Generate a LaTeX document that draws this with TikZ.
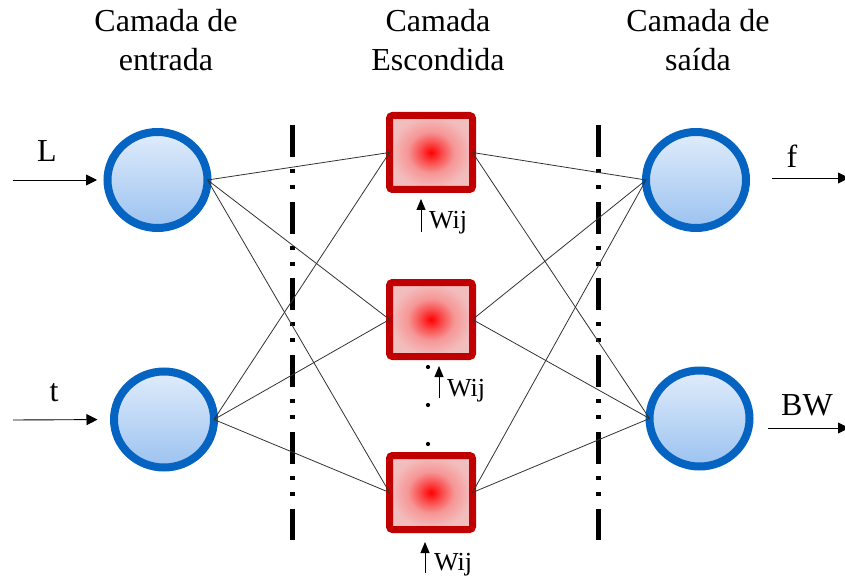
\documentclass[tikz,border=0pt]{standalone}
\usepackage{fontspec}
\setmainfont{Liberation Serif}
\usetikzlibrary{shapes.geometric,arrows.meta}

\definecolor{neuronedge}{RGB}{5,99,193}
\definecolor{neurontop}{RGB}{224,236,251}
\definecolor{neuronbot}{RGB}{155,194,240}
\definecolor{hiddenedge}{RGB}{192,0,0}
\definecolor{wire}{RGB}{50,50,50}
\definecolor{glowA}{RGB}{255,0,0}
\definecolor{glowB}{RGB}{250,80,80}
\definecolor{glowC}{RGB}{246,150,150}
\definecolor{glowD}{RGB}{243,188,188}
\definecolor{glowE}{RGB}{230,200,200}

% red glow used inside the hidden units
\pgfdeclareradialshading{redglow}{\pgfpoint{0bp}{0bp}}{%
  color(0bp)=(glowA);
  color(7bp)=(glowB);
  color(14bp)=(glowC);
  color(24bp)=(glowD);
  color(50bp)=(glowE)}

\tikzset{
  neuron/.style={ellipse, draw=neuronedge, line width=8pt, inner sep=0pt, outer sep=0pt,
    minimum width=100pt, minimum height=96pt,
    top color=neurontop, bottom color=neuronbot},
  hidden/.style={rectangle, draw=hiddenedge, line width=7pt, inner sep=0pt, outer sep=0pt,
    minimum width=83pt, minimum height=74pt, rounded corners=3pt, shading=redglow},
  wiring/.style={draw=wire, line width=0.8pt},
  iolink/.style={line width=0.9pt, -{Triangle[length=11pt,width=11pt]}},
  weightlink/.style={line width=0.9pt, -{Triangle[length=11pt,width=9pt]}},
  divider/.style={line width=5pt, dash pattern=on 32pt off 12pt on 4pt off 12pt on 4pt off 12.7pt},
  header/.style={font=\fontsize{32}{39}\selectfont, align=center, anchor=north, inner sep=0pt},
  iolabel/.style={font=\fontsize{32}{39}\selectfont, anchor=base, inner sep=0pt},
  wlabel/.style={font=\fontsize{26}{30}\selectfont, anchor=base west, inner sep=0pt},
  dotmark/.style={fill=black, circle, inner sep=0pt, minimum size=4.2pt}
}

\begin{document}
\begin{tikzpicture}[x=1pt, y=-1pt]
\useasboundingbox (0,0) rectangle (845,577);

% layer titles
\node[header] (h1) at (166,9) {Camada de\\entrada};
\node[header] (h2) at (438,9) {Camada\\Escondida};
\node[header] (h3) at (698,9) {Camada de\\saída};

% separators between the layers
\coordinate (d1a) at (292,125);
\coordinate (d1b) at (292,540);
\coordinate (d2a) at (598,125);
\coordinate (d2b) at (598,540);
\draw[divider] (d1a) -- (d1b);
\draw[divider] (d2a) -- (d2b);

% units
\node[neuron] (in1) at (157.5,180) {};
\node[neuron] (in2) at (164,419.5) {};
\node[neuron] (out1) at (696,180) {};
\node[neuron] (out2) at (699.5,418.5) {};
\node[hidden] (hid1) at (431,152.5) {};
\node[hidden] (hid2) at (431,319.5) {};
\node[hidden] (hid3) at (431,492.5) {};

% full connections
\foreach \i in {in1,in2}
  \foreach \h in {hid1,hid2,hid3}
    \draw[wiring] (\i.east) -- (\h.west);
\foreach \h in {hid1,hid2,hid3}
  \foreach \o in {out1,out2}
    \draw[wiring] (\h.east) -- (\o.west);

% inputs
\coordinate (Lstart) at (13,180);
\coordinate (tstart) at (13,420);
\draw[iolink, shorten >=10.5pt] (Lstart) -- (in1.west);
\draw[iolink, shorten >=16.5pt] (tstart) -- (in2.west);
\node[iolabel] (lL) at (47,162) {L};
\node[iolabel] (lt) at (54,401) {t};

% outputs
\coordinate (fend) at (849,178);
\coordinate (bwend) at (849,428);
\draw[iolink, shorten <=26pt] (out1.east |- fend) -- (fend);
\draw[iolink, shorten <=18.5pt] (out2.east |- bwend) -- (bwend);
\node[iolabel] (lf) at (792,168) {f};
\node[iolabel] (lbw) at (807,415) {BW};

% weights
\coordinate (w1a) at (421,232);
\coordinate (w1b) at (421,199);
\coordinate (w2a) at (439,398);
\coordinate (w2b) at (439,366);
\coordinate (w3a) at (425,573);
\coordinate (w3b) at (425,542);
\draw[weightlink] (w1a) -- (w1b);
\draw[weightlink] (w2a) -- (w2b);
\draw[weightlink] (w3a) -- (w3b);
\node[wlabel] (lw1) at (429,229) {Wij};
\node[wlabel] (lw2) at (447,396) {Wij};
\node[wlabel] (lw3) at (434,570) {Wij};

% ellipsis between hidden units
\node[dotmark] (p1) at (428,367) {};
\node[dotmark] (p2) at (428,405) {};
\node[dotmark] (p3) at (428,444) {};
\end{tikzpicture}
\end{document}
